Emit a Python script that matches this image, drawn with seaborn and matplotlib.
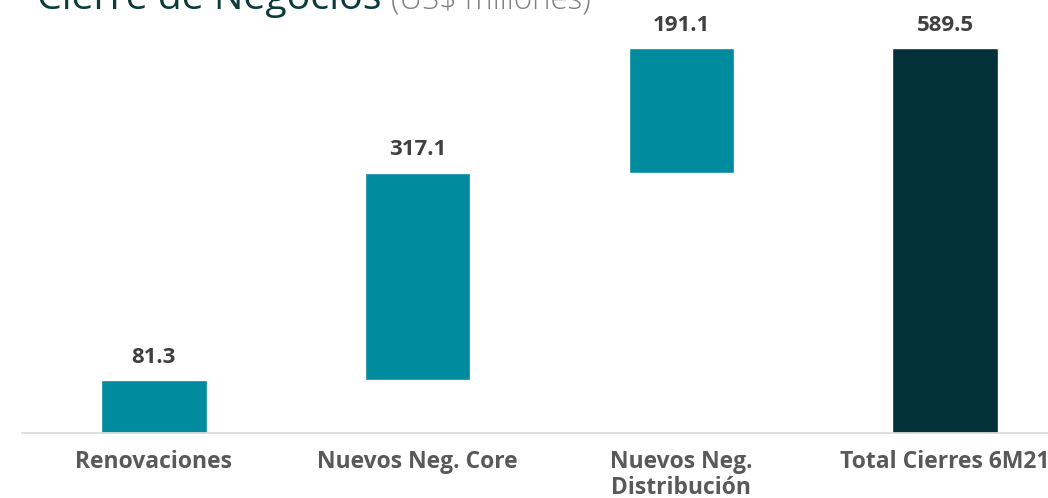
import pandas as pd
import matplotlib.pyplot as plt
import seaborn as sns

# Chart data (US$ millones)
categories = ["Renovaciones", "Nuevos Neg. Core", "Nuevos Neg.\nDistribución", "Total Cierres 6M21"]
values = [81.3, 317.1, 191.1, 589.5]
is_total = [False, False, False, True]

# Waterfall bases / tops
bases = []
running = 0.0
for v, tot in zip(values, is_total):
    if tot:
        bases.append(0.0)
    else:
        bases.append(running)
        running += v
tops = [b + v for b, v in zip(bases, values)]

teal = "#008B9E"
dark = "#02313A"
colors = [dark if t else teal for t in is_total]

df = pd.DataFrame({"category": categories, "top": tops, "base": bases, "value": values})

sns.set_theme(style="white")
plt.rcParams["font.family"] = ["Open Sans", "DejaVu Sans"]

fig = plt.figure(figsize=(10.48, 4.98), dpi=100)
ax = fig.add_axes([0.021, 1 - 433 / 498, 0.979, 433 / 498])

sns.barplot(data=df, x="category", y="top", hue="category", palette=colors,
            width=0.4, legend=False, ax=ax, saturation=1)
sns.barplot(data=df, x="category", y="base", color="white",
            width=0.4, ax=ax, saturation=1)

for i, (t, v) in enumerate(zip(tops, values)):
    ax.annotate(f"{v:.1f}", (i, t), xytext=(0, 12.5), textcoords="offset points",
                ha="center", va="baseline", fontsize=16, fontweight="bold", color="#404040")

ax.set_xlim(-0.5, 3.39)
ax.set_ylim(0, 663)
ax.set_xlabel("")
ax.set_ylabel("")
ax.set_yticks([])
for s in ["top", "right", "left"]:
    ax.spines[s].set_visible(False)
ax.spines["bottom"].set_color("#d9d9d9")
ax.spines["bottom"].set_linewidth(1.2)
ax.tick_params(axis="x", length=0, pad=12)
for lbl in ax.get_xticklabels():
    lbl.set_fontsize(16.5)
    lbl.set_fontweight("bold")
    lbl.set_color("#595959")
    lbl.set_linespacing(1.12)

fig.text(37 / 1048, 1 - 9 / 498, "Cierre de Negocios", fontsize=28.3, color="#0B3B3A",
         ha="left", va="baseline")
fig.text(391 / 1048, 1 - 9 / 498, "(US$ millones)", fontsize=22.5, color="#808080",
         ha="left", va="baseline", fontweight="light")

fig.savefig("out.png", dpi=100)
